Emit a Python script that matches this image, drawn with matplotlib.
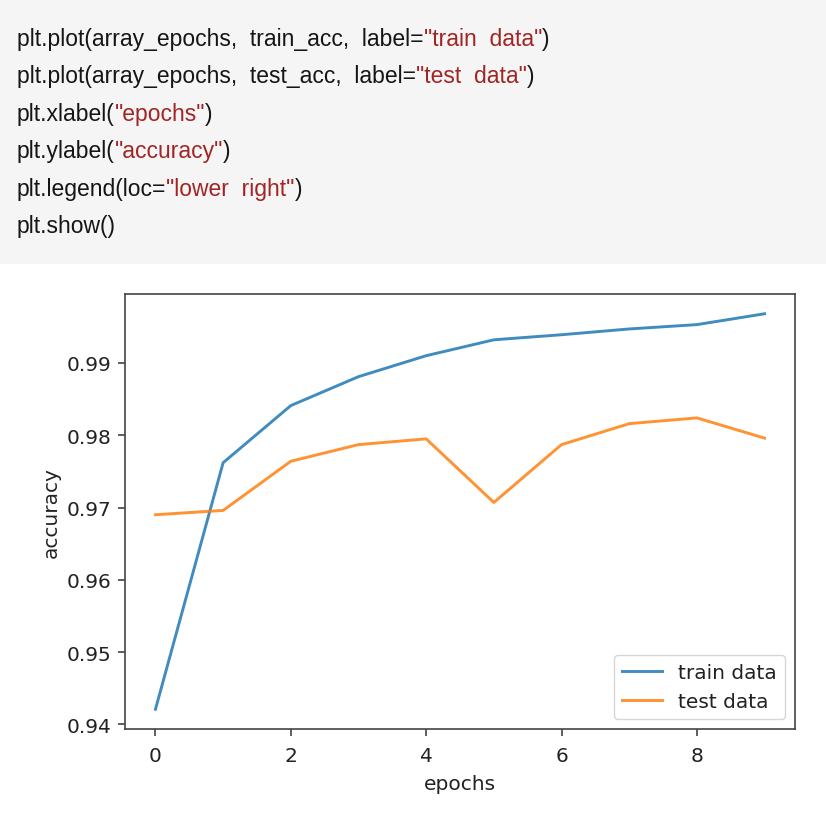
import matplotlib
matplotlib.use("Agg")
import matplotlib.pyplot as plt
from matplotlib.patches import Rectangle

# data
array_epochs = list(range(10))
train_acc = [0.9421, 0.9762, 0.9841, 0.9881, 0.9910, 0.9932, 0.9939, 0.9947, 0.9953, 0.9968]
test_acc = [0.9690, 0.9696, 0.9764, 0.9787, 0.9795, 0.9707, 0.9787, 0.9816, 0.9824, 0.9796]

# code cell text, (text, is_string) pieces per line
code_lines = [
    [("plt.plot(array_epochs,  train_acc,  label=", False), ('"train  data"', True), (")", False)],
    [("plt.plot(array_epochs,  test_acc,  label=", False), ('"test  data"', True), (")", False)],
    [("plt.xlabel(", False), ('"epochs"', True), (")", False)],
    [("plt.ylabel(", False), ('"accuracy"', True), (")", False)],
    [("plt.legend(loc=", False), ('"lower  right"', True), (")", False)],
    [("plt.show()", False)],
]

W, H = 826, 828
fig = plt.figure(figsize=(W / 100, H / 100), dpi=100)
fig.patch.set_facecolor("white")

# grey code cell background
fig.patches.append(Rectangle((0, 1 - 265 / H), 1, 265 / H, transform=fig.transFigure,
                             facecolor="#f5f5f5", edgecolor="none", zorder=0))

code_font = dict(family="Liberation Sans", fontsize=16.5)
for i, pieces in enumerate(code_lines):
    y = 46 + 37.4 * i  # baseline, px from top
    last = None
    for txt, is_str in pieces:
        col = "#a32424" if is_str else "#151515"
        if last is None:
            last = fig.text(17 / W, 1 - y / H, txt, color=col, va="baseline", ha="left", **code_font)
        else:
            # chain next piece onto the right end of the previous one
            last = fig.add_artist(plt.Annotation(txt, xy=(1, 0), xycoords=last,
                                                 va="bottom", ha="left", color=col, **code_font))

ax = fig.add_axes([125 / W, 1 - 730 / H, 670 / W, 435 / H])
ax.plot(array_epochs, train_acc, label="train data", color="#1f77b4", lw=2.1, alpha=0.85)
ax.plot(array_epochs, test_acc, label="test data", color="#ff7f0e", lw=2.1, alpha=0.85)
ax.set_xlabel("epochs", fontsize=14.5, color="#222222", labelpad=6)
ax.set_ylabel("accuracy", fontsize=14.5, color="#222222")
ax.set_yticks([0.94, 0.95, 0.96, 0.97, 0.98, 0.99])
ax.tick_params(labelsize=14.5, length=5, width=1.1, colors="#333333", labelcolor="#222222")
ax.tick_params(axis="x", pad=7.5)
ax.tick_params(axis="y", pad=5)
for s in ax.spines.values():
    s.set_linewidth(1.2)
    s.set_color("#444444")
ax.legend(loc="lower right", fontsize=14.5, handlelength=2.0, labelcolor="#222222")

fig.savefig("out.png", dpi=100)
